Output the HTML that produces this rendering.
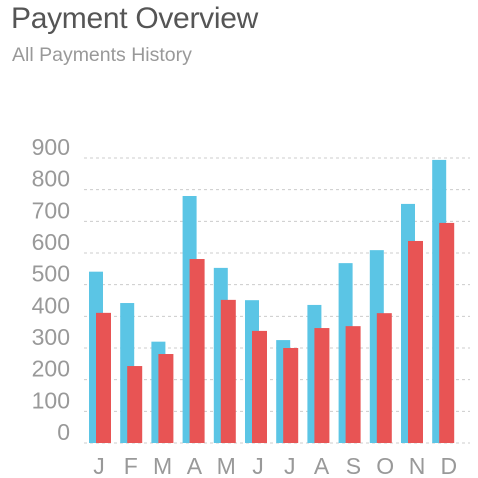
<!DOCTYPE html>
<html><head><meta charset="utf-8"><style>
body{margin:0;background:#fff;width:478px;height:478px;overflow:hidden;font-family:"Liberation Sans",sans-serif}
.t{position:absolute;left:11px;top:2px;font-size:30px;color:#555;font-weight:300;letter-spacing:-0.3px}
.s{position:absolute;left:12px;top:44px;font-size:19.5px;color:#999}
</style></head><body>
<div class="t">Payment Overview</div>
<div class="s">All Payments History</div>
<svg id="c" width="478" height="478" style="position:absolute;left:0;top:0"></svg>
<script>
const months=["J","F","M","A","M","J","J","A","S","O","N","D"];
const seriesA=[541,442,320,780,553,451,325,436,568,609,755,894];
const seriesB=[411,243,281,581,452,354,300,363,369,410,638,695];
const ticks=[0,100,200,300,400,500,600,700,800,900];
const svg=document.getElementById('c');const NS='http://www.w3.org/2000/svg';
const y=v=>443-v*285/900, x=i=>89+i*31.2;
function mk(t,a){const e=document.createElementNS(NS,t);for(const k in a)e.setAttribute(k,a[k]);svg.appendChild(e);return e;}
ticks.forEach(t=>{
 const l=mk('line',{x1:84,x2:470,y1:y(t),y2:y(t),stroke:'#ccc','stroke-dasharray':'3,3','stroke-width':1});
 
 
 const tx=mk('text',{x:70,y:y(t)-3,'text-anchor':'end','font-size':23,fill:'#999','font-family':'Liberation Sans, sans-serif'});
 tx.textContent=t;
 
 
});
months.forEach((m,i)=>{
 const a=mk('rect',{x:x(i),y:y(seriesA[i]),width:14,height:443-y(seriesA[i]),fill:'#5bc5e5'});
 
 
 const b=mk('rect',{x:x(i)+7,y:y(seriesB[i]),width:15,height:443-y(seriesB[i]),fill:'#e85454'});
 
 
 const tx=mk('text',{x:99+i*31.8,y:474,'text-anchor':'middle','font-size':23,fill:'#999','font-family':'Liberation Sans, sans-serif'});
 tx.textContent=m;
 
 
});
</script>
</body></html>
